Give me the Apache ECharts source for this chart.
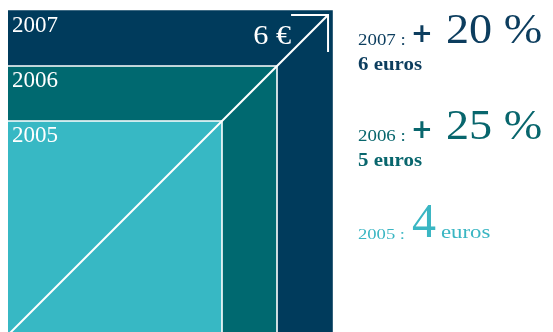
<!DOCTYPE html>
<html>
<head>
<meta charset="utf-8">
<script src="https://cdn.jsdelivr.net/npm/echarts@6/dist/echarts.min.js"></script>
<style>
  html, body { margin: 0; padding: 0; background: #ffffff; }
  #chart { width: 553px; height: 332px; }
</style>
</head>
<body>
<div id="chart"></div>
<script>
// Price per year, largest first so the smaller squares sit on top
const years = ['2007', '2006', '2005'];
const prices = [6, 5, 4];
const growth = [20, 25, null];          // % rise over the previous year
const fills = ['#003b5c', '#006970', '#37b8c4'];
const inks  = ['#0c3d5e', '#08666d', '#3ab6c3'];

const FONT = '"Liberation Serif", "DejaVu Serif", serif';
const maxPrice = Math.max(...prices);
const FRAME_LEFT = 8;   // the squares are cut off on the left at this x

const chart = echarts.init(document.getElementById('chart'), null, { renderer: 'canvas' });

// each square spans from the origin to (price, price)
function renderSquare(params, api) {
  const i = params.dataIndex;
  const v = api.value(0);
  const tl = api.coord([0, v]);
  const br = api.coord([v, 0]);
  const children = [
    {
      type: 'rect',
      shape: { x: tl[0], y: tl[1], width: br[0] - tl[0], height: br[1] - tl[1] },
      style: { fill: fills[i], stroke: i === 0 ? fills[i] : '#ffffff', lineWidth: 1.6 }
    },
    {
      type: 'text',
      x: FRAME_LEFT + 4, y: tl[1] + 15,
      style: {
        text: years[i], fill: '#ffffff', font: '23px ' + FONT,
        verticalAlign: 'middle', align: 'left'
      }
    }
  ];
  if (i === 0) {
    children.push({
      type: 'text',
      x: br[0] - 41, y: tl[1] + 26, scaleX: 1.12,
      style: {
        text: v + ' €', fill: '#ffffff', font: '27px ' + FONT,
        verticalAlign: 'middle', align: 'right'
      }
    });
  }
  return { type: 'group', children };
}

// texts on the right: one block per year
const graphics = [
  // white margin on the left edge of the squares
  { type: 'rect', left: 0, top: 0, z: 20,
    shape: { width: FRAME_LEFT, height: 332 }, style: { fill: '#ffffff' } }
];
function txt(x, y, str, color, font, sx) {
  graphics.push({
    type: 'text', x: x, y: y, z: 10, scaleX: sx || 1, originX: 0,
    style: { text: str, fill: color, font: font, verticalAlign: 'middle' }
  });
}
years.forEach((yr, i) => {
  const base = 46 + i * 96;
  const c = inks[i];
  if (growth[i] !== null) {
    txt(358, base - 5.4, yr + ' :', c, '16px ' + FONT, 1.18);
    txt(411, base - 11, '+', c, 'bold 26px "DejaVu Sans"', 1);
    txt(446, base - 14.3, growth[i] + ' %', c, '42px ' + FONT, 1.1);
    txt(358, base + 26 - 6.5, prices[i] + ' euros', c, 'bold 19px ' + FONT, 1.1);
  } else {
    const b = base + 2;
    txt(358, b - 5.2, yr + ' :', c, '15px ' + FONT, 1.24);
    txt(412, b - 16, String(prices[i]), c, '48px ' + FONT, 1);
    txt(441, b - 6.5, 'euros', c, '19px ' + FONT, 1.2);
  }
});

const tip = maxPrice * 0.988;
const arm = maxPrice * 0.109;

chart.setOption({
  animation: false,
  backgroundColor: '#ffffff',
  grid: {
    left: 2, top: 11, width: 330, height: 330,
    containLabel: false, outerBoundsMode: 'none'
  },
  xAxis: { type: 'value', min: 0, max: maxPrice, show: false },
  yAxis: { type: 'value', min: 0, max: maxPrice, show: false },
  graphic: graphics,
  series: [
    {
      type: 'custom',
      renderItem: renderSquare,
      data: prices.map(p => [p]),
      clip: false,
      z: 1
    },
    {
      type: 'line',
      data: [[0, 0], [tip, tip]],
      symbol: 'none',
      lineStyle: { color: '#ffffff', width: 2 },
      z: 5
    },
    {
      type: 'line',
      data: [[tip - arm, tip], [tip, tip], [tip, tip - arm]],
      symbol: 'none',
      lineStyle: { color: '#ffffff', width: 2, cap: 'square', join: 'miter' },
      z: 5
    }
  ]
});
</script>
</body>
</html>
